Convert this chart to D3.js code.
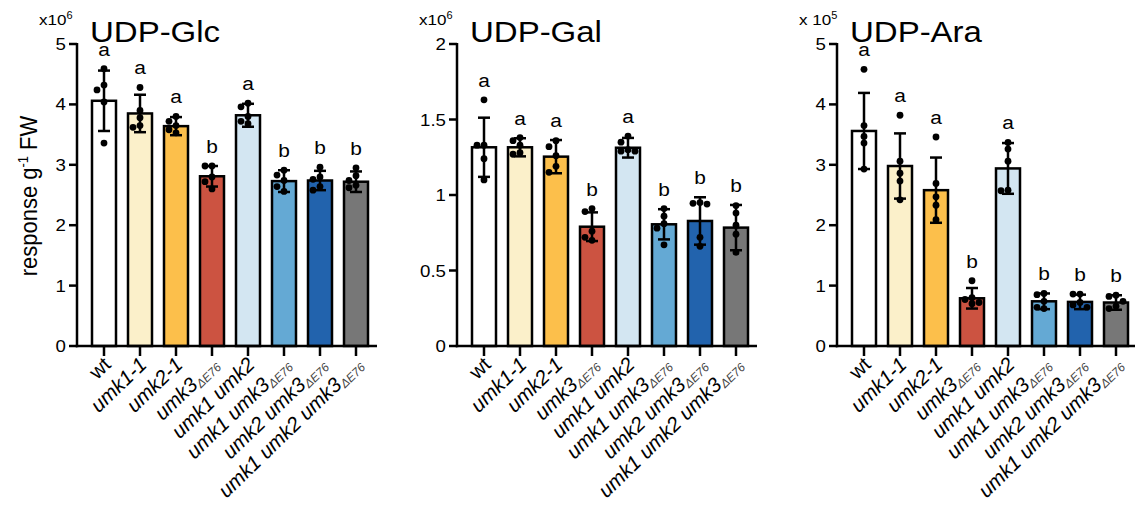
<!DOCTYPE html>
<html>
<head>
<meta charset="utf-8">
<script src="https://cdn.jsdelivr.net/npm/d3@7"></script>
<style>
  body { margin: 0; background: #fff; }
  text { font-family: "Liberation Sans", Arial, Helvetica, sans-serif; fill: #000; }
</style>
</head>
<body>
<div id="chart"></div>
<script>
// genotypes on the x axis (main label + subscript)
const genoMain = ["wt", "umk1-1", "umk2-1", "umk3", "umk1 umk2", "umk1 umk3", "umk2 umk3", "umk1 umk2 umk3"];
const genoSub  = ["", "", "", "ΔE76", "", "ΔE76", "ΔE76", "ΔE76"];
const fills    = ["#ffffff", "#fbf0ca", "#fcbf4b", "#cc5341", "#d3e6f2", "#64a9d4", "#2263ad", "#777777"];

// UDP-Glc (x10^6)
const glcMean = [4.06, 3.85, 3.64, 2.81, 3.82, 2.73, 2.74, 2.72];
const glcSD   = [0.50, 0.31, 0.15, 0.17, 0.19, 0.18, 0.16, 0.17];
const glcPts  = [
  [4.59, 4.32, 4.24, 4.04, 3.36],
  [4.28, 3.90, 3.78, 3.65, 3.62],
  [3.80, 3.72, 3.65, 3.58, 3.53],
  [2.98, 2.98, 2.80, 2.72, 2.60],
  [4.02, 3.96, 3.80, 3.72, 3.68],
  [2.91, 2.83, 2.74, 2.64, 2.56],
  [2.96, 2.80, 2.76, 2.64, 2.58],
  [2.95, 2.82, 2.74, 2.66, 2.62]
];
const glcLetters = ["a", "a", "a", "b", "a", "b", "b", "b"];

// UDP-Gal (x10^6)
const galMean = [1.316, 1.316, 1.254, 0.790, 1.313, 0.806, 0.828, 0.784];
const galSD   = [0.196, 0.060, 0.110, 0.095, 0.065, 0.100, 0.157, 0.150];
const galPts  = [
  [1.63, 1.33, 1.33, 1.24, 1.10],
  [1.38, 1.36, 1.33, 1.28, 1.27],
  [1.36, 1.32, 1.26, 1.19, 1.15],
  [0.91, 0.89, 0.76, 0.72, 0.70],
  [1.39, 1.35, 1.30, 1.29, 1.29],
  [0.91, 0.86, 0.81, 0.78, 0.67],
  [0.95, 0.945, 0.94, 0.72, 0.66],
  [0.93, 0.88, 0.80, 0.74, 0.62]
];
const galLetters = ["a", "a", "a", "b", "a", "b", "b", "b"];

// UDP-Ara (x10^5)
const araMean = [3.56, 2.98, 2.58, 0.79, 2.94, 0.74, 0.73, 0.72];
const araSD   = [0.63, 0.54, 0.54, 0.17, 0.42, 0.13, 0.12, 0.12];
const araPts  = [
  [4.58, 3.65, 3.47, 3.36, 2.93],
  [3.82, 3.06, 2.86, 2.73, 2.42],
  [3.46, 2.69, 2.47, 2.33, 2.09],
  [1.08, 0.80, 0.77, 0.72, 0.70],
  [3.37, 3.26, 3.06, 2.58, 2.57],
  [0.87, 0.85, 0.74, 0.64, 0.62],
  [0.86, 0.86, 0.72, 0.68, 0.64],
  [0.84, 0.82, 0.74, 0.66, 0.62]
];
const araLetters = ["a", "a", "a", "b", "a", "b", "b", "b"];

const panels = [
  { title: "UDP-Glc", mult: "x10", exp: "6", ticks: [0, 1, 2, 3, 4, 5], mean: glcMean, sd: glcSD, pts: glcPts, letters: glcLetters },
  { title: "UDP-Gal", mult: "x10", exp: "6", ticks: [0, 0.5, 1, 1.5, 2], mean: galMean, sd: galSD, pts: galPts, letters: galLetters },
  { title: "UDP-Ara", mult: "x 10", exp: "5", ticks: [0, 1, 2, 3, 4, 5], mean: araMean, sd: araSD, pts: araPts, letters: araLetters }
];

const W = 1135, H = 509;
const sx = 1.1;          // the glyphs in the figure are a bit wide
const yBase = 346, yTop = 44;
const lw = 2.5;

const svg = d3.select("#chart").append("svg")
  .attr("width", W).attr("height", H);

// place dots side by side when they overlap
function dodge(vals, ys, cx) {
  const placed = [];
  const offs = [0, -7, 7, -10, 10, -3.5, 3.5];
  vals.slice().sort((a, b) => b - a).forEach(v => {
    const py = ys(v);
    let o = offs.find(o => placed.every(q => Math.hypot(q.x - (cx + o), q.y - py) >= 6.6));
    if (o === undefined) o = 0;
    placed.push({ x: cx + o, y: py });
  });
  return placed;
}

panels.forEach((p, k) => {
  const ax = 77 + 380 * k;
  const g = svg.append("g");

  const y = d3.scaleLinear().domain([0, d3.max(p.ticks)]).range([yBase, yTop]);
  const x = d3.scalePoint().domain(d3.range(genoMain.length)).range([ax + 27, ax + 279]);
  const bw = 24;

  // bars
  g.selectAll("rect.bar").data(p.mean).enter().append("rect")
    .attr("class", "bar")
    .attr("x", (d, i) => x(i) - bw / 2)
    .attr("y", d => y(d))
    .attr("width", bw)
    .attr("height", d => yBase - y(d))
    .attr("fill", (d, i) => fills[i])
    .attr("stroke", "#000")
    .attr("stroke-width", lw);

  // error bars (mean ± SD)
  const eb = g.selectAll("g.err").data(p.mean).enter().append("g").attr("class", "err")
    .attr("stroke", "#000").attr("stroke-width", lw).attr("fill", "none");
  eb.append("line")
    .attr("x1", (d, i) => x(i)).attr("x2", (d, i) => x(i))
    .attr("y1", (d, i) => y(d - p.sd[i])).attr("y2", (d, i) => y(d + p.sd[i]));
  eb.append("line")
    .attr("x1", (d, i) => x(i) - 6).attr("x2", (d, i) => x(i) + 6)
    .attr("y1", (d, i) => y(d + p.sd[i])).attr("y2", (d, i) => y(d + p.sd[i]));
  eb.append("line")
    .attr("x1", (d, i) => x(i) - 6).attr("x2", (d, i) => x(i) + 6)
    .attr("y1", (d, i) => y(d - p.sd[i])).attr("y2", (d, i) => y(d - p.sd[i]));

  // individual values
  p.pts.forEach((vals, i) => {
    g.selectAll(null).data(dodge(vals, y, x(i))).enter().append("circle")
      .attr("cx", d => d.x).attr("cy", d => d.y).attr("r", 3.4)
      .attr("fill", "#000");
  });

  // significance letters
  g.selectAll("text.letter").data(p.letters).enter().append("text")
    .attr("class", "letter")
    .attr("transform", (d, i) => {
      const top = Math.max(p.mean[i] + p.sd[i], d3.max(p.pts[i]));
      return `translate(${x(i)},${y(top) - 13}) scale(${sx},1)`;
    })
    .attr("text-anchor", "middle")
    .attr("font-size", 19)
    .text(d => d);

  // y axis
  g.append("line")
    .attr("x1", ax).attr("x2", ax).attr("y1", yTop - 1).attr("y2", yBase + lw / 2)
    .attr("stroke", "#000").attr("stroke-width", lw);
  const yt = g.selectAll("g.ytick").data(p.ticks).enter().append("g")
    .attr("transform", d => `translate(${ax},${y(d)})`);
  yt.append("line").attr("x1", -8).attr("x2", 0)
    .attr("stroke", "#000").attr("stroke-width", lw);
  yt.append("text")
    .attr("transform", `translate(-11,6) scale(${sx},1)`)
    .attr("text-anchor", "end")
    .attr("font-size", 17)
    .text(d => d);

  // x axis
  g.append("line")
    .attr("x1", ax - lw / 2).attr("x2", ax + 300).attr("y1", yBase).attr("y2", yBase)
    .attr("stroke", "#000").attr("stroke-width", lw);
  g.selectAll("line.xtick").data(genoMain).enter().append("line")
    .attr("x1", (d, i) => x(i)).attr("x2", (d, i) => x(i))
    .attr("y1", yBase).attr("y2", yBase + 10)
    .attr("stroke", "#000").attr("stroke-width", lw);

  const xl = g.selectAll("text.xlab").data(genoMain).enter().append("text")
    .attr("transform", (d, i) => `translate(${x(i) + 8},${yBase + 20}) rotate(-44)`)
    .attr("text-anchor", "end")
    .attr("font-size", 20.5)
    .attr("font-style", (d, i) => i === 0 ? "normal" : "italic");
  xl.append("tspan").text(d => d);
  xl.append("tspan")
    .attr("font-size", 12)
    .attr("dy", 3)
    .attr("fill", "#444")
    .text((d, i) => genoSub[i]);

  // title and multiplier
  g.append("text")
    .attr("transform", `translate(${ax + 13},42) scale(${sx},1)`)
    .attr("font-size", 30)
    .text(p.title);
  const m = g.append("text")
    .attr("transform", `translate(${ax - 38},25) scale(${sx},1)`)
    .attr("font-size", 15.5);
  m.append("tspan").text(p.mult);
  m.append("tspan").attr("font-size", 10).attr("dy", -6).text(p.exp);
});

// y axis title
const yl = svg.append("text")
  .attr("transform", `translate(37,196) scale(${sx},1) rotate(-90)`)
  .attr("text-anchor", "middle")
  .attr("font-size", 22);
yl.append("tspan").text("response g");
yl.append("tspan").attr("font-size", 13).attr("dy", -8).text("-1");
yl.append("tspan").attr("dy", 8).text(" FW");
</script>
</body>
</html>
